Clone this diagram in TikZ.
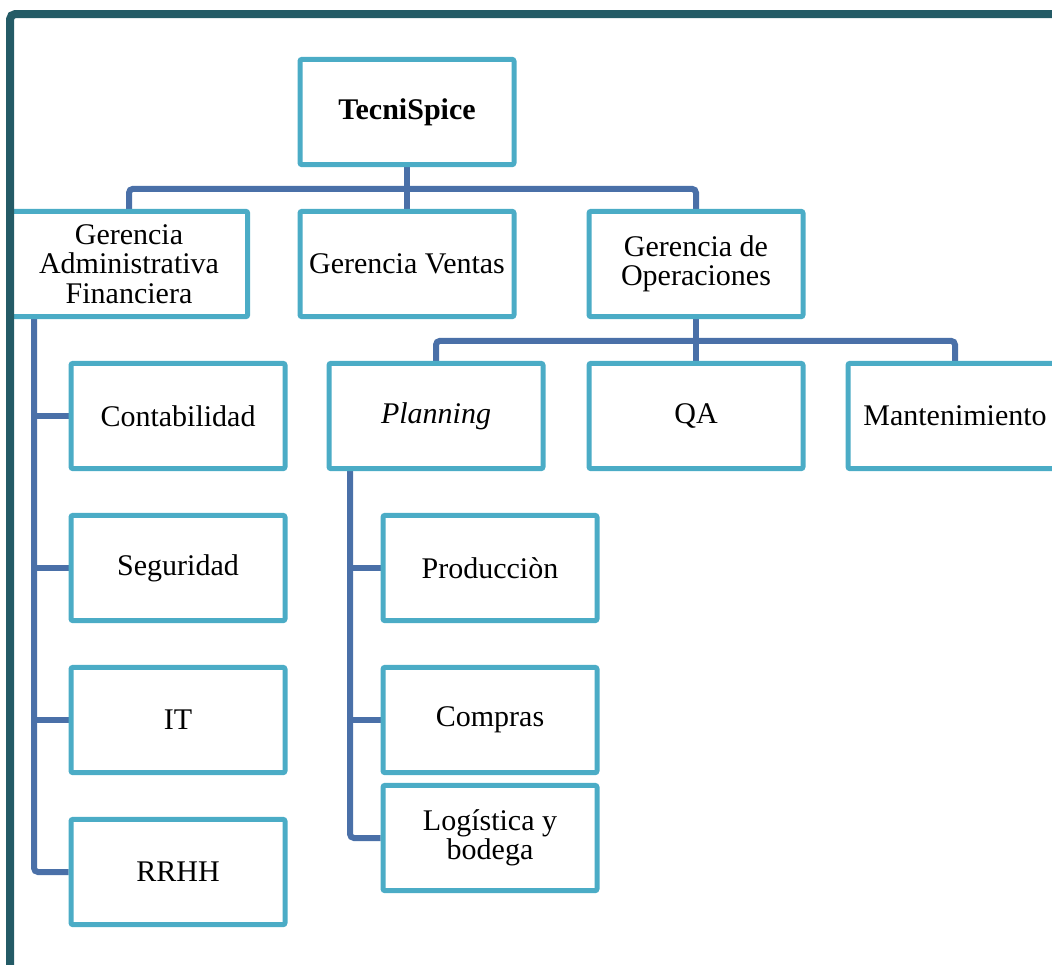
\documentclass[tikz,border=0pt]{standalone}
\usepackage{fontspec}
\setmainfont{Liberation Serif}
\usetikzlibrary{backgrounds}
\definecolor{framedark}{HTML}{245B66}
\definecolor{boxblue}{HTML}{4BACC6}
\definecolor{linkblue}{HTML}{4A70A8}
\begin{document}
\begin{tikzpicture}[x=0.75pt,y=-0.75pt,
  unit/.style={draw=boxblue, line width=3.75pt, fill=white, rounded corners=1.5pt,
    minimum width=160.5pt, minimum height=79pt, inner sep=0pt, align=center,
    font=\fontsize{22.5}{22}\selectfont},
  link/.style={draw=linkblue, line width=4.5pt, rounded corners=3pt},
  outline/.style={draw=framedark, line width=6pt, rounded corners=4pt}]
\useasboundingbox (0,0) rectangle (1052,964);

% boxes
\node[unit, font=\fontsize{22.5}{22}\selectfont\bfseries] (root) at (407,112) {TecniSpice};
\node[unit, minimum width=178pt] (admin) at (129,264) {Gerencia\\Administrativa\\Financiera};
\node[unit] (ventas) at (407,264) {Gerencia Ventas};
\node[unit] (ops) at (696,264) {Gerencia de\\Operaciones};

\node[unit] (conta) at (178,416) {Contabilidad};
\node[unit] (segur) at (178,568) {Seguridad};
\node[unit] (it) at (178,720) {IT};
\node[unit] (rrhh) at (178,872) {RRHH};

\node[unit] (plan) at (436,416) {\itshape Planning};
\node[unit] (qa) at (696,416) {QA};
\node[unit] (mant) at (955,416) {Mantenimiento};

\node[unit] (prod) at (490,568) {Producciòn};
\node[unit] (compras) at (490,720) {Compras};
\node[unit] (logis) at (490,838) {Logística y\\bodega};

% connectors behind the boxes
\begin{scope}[on background layer]
  \coordinate (adminline) at (34,300);
  \coordinate (planline) at (350,450);
  % top level
  \draw[link] (root.south) -- (ventas.north);
  \draw[link] (admin.north) -- ++(0,-20) -| (ops.north);
  % operations branch
  \draw[link] (ops.south) -- (qa.north);
  \draw[link] (plan.north) -- ++(0,-20) -| (mant.north);
  % administration branch
  \draw[link] (adminline) |- (rrhh.west);
  \draw[link] (adminline |- conta.west) -- (conta.west);
  \draw[link] (adminline |- segur.west) -- (segur.west);
  \draw[link] (adminline |- it.west) -- (it.west);
  % planning branch
  \draw[link] (planline) |- (logis.west);
  \draw[link] (planline |- prod.west) -- (prod.west);
  \draw[link] (planline |- compras.west) -- (compras.west);
\end{scope}

% outer frame, running off the right and bottom edges
\coordinate (frameleft) at (10,1000);
\coordinate (frametop) at (1100,14);
\draw[outline] (frameleft) |- (frametop);
\end{tikzpicture}
\end{document}
